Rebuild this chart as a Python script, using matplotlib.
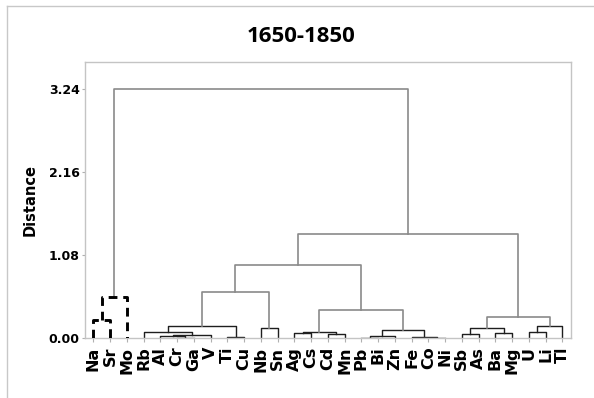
import matplotlib
matplotlib.use('Agg')
import matplotlib.pyplot as plt
from matplotlib.lines import Line2D

# leaves in dendrogram order
labels = ['Na', 'Sr', 'Mo', 'Rb', 'Al', 'Cr', 'Ga', 'V', 'Ti', 'Cu', 'Nb', 'Sn',
          'Ag', 'Cs', 'Cd', 'Mn', 'Pb', 'Bi', 'Zn', 'Fe', 'Co', 'Ni', 'Sb', 'As',
          'Ba', 'Mg', 'U', 'Li', 'Tl']

# linkage: ids 0..28 are leaves, each row makes a new cluster id 29, 30, ...
link_a = [0, 29, 5, 4, 32, 3, 8, 34, 10, 36, 12, 14, 39, 16, 42, 20, 19, 43,
          41, 38, 22, 24, 49, 26, 52, 51, 48, 30]
link_b = [1, 2, 6, 31, 7, 33, 9, 35, 11, 37, 13, 15, 40, 17, 18, 21, 44, 45,
          46, 47, 23, 25, 50, 27, 28, 53, 54, 55]
link_h = [0.24, 0.54, 0.01, 0.025, 0.04, 0.085, 0.02, 0.16, 0.13, 0.607, 0.065,
          0.05, 0.077, 0.008, 0.035, 0.008, 0.022, 0.108, 0.368, 0.95, 0.05,
          0.07, 0.138, 0.08, 0.16, 0.273, 1.36, 3.24]

yticks = [0.0, 1.08, 2.16, 3.24]
dashed_cluster = ['Na', 'Sr', 'Mo']

fig = plt.figure(figsize=(5.94, 3.98), dpi=100)
ax = fig.add_axes([85 / 594, 1 - 338.3 / 398, 485.7 / 594, 276.6 / 398])

n = len(labels)
xpos = {i: i + 1 for i in range(n)}
hgt = {i: 0.0 for i in range(n)}
members = {i: {labels[i]} for i in range(n)}

for k, (a, b, h) in enumerate(zip(link_a, link_b, link_h)):
    cid = n + k
    xpos[cid] = (xpos[a] + xpos[b]) / 2
    hgt[cid] = h
    members[cid] = members[a] | members[b]
    if members[cid] <= set(dashed_cluster):
        ax.plot([xpos[a], xpos[a], xpos[b], xpos[b]], [hgt[a], h, h, hgt[b]],
                color='black', lw=2.1, linestyle=(0, (3, 2)), zorder=3)
    elif h >= 0.25:
        ax.plot([xpos[a], xpos[a], xpos[b], xpos[b]], [hgt[a], h, h, hgt[b]],
                color='#8a8a8a', lw=1.2, zorder=2)
    else:
        ax.plot([xpos[a], xpos[a], xpos[b], xpos[b]], [hgt[a], h, h, hgt[b]],
                color='#1e1e1e', lw=1.0, zorder=2)

ax.set_xlim(0.5, n + 0.5)
ax.set_ylim(0, 3.6)
ax.set_xticks(range(1, n + 1))
ax.set_xticklabels(labels, rotation=90, fontsize=11.5, fontweight='bold',
                   family='DejaVu Sans')
ax.set_yticks(yticks)
ax.set_yticklabels(['%.2f' % v for v in yticks], fontsize=9, fontweight='bold',
                   family='DejaVu Sans')
ax.tick_params(axis='x', length=3, color='#b0b0b0', pad=3)
ax.tick_params(axis='y', length=2.5, color='#b0b0b0', pad=1.2)
for s in ax.spines.values():
    s.set_color('#c4c4c4')
    s.set_linewidth(1.0)

ax.set_ylabel('Distance', fontsize=10.5, fontweight='bold', labelpad=6)
ax.yaxis.set_label_coords(-0.098, 0.5)
fig.text(301 / 594, 1 - 36 / 398, '1650-1850', ha='center', va='center',
         fontsize=16, fontweight='bold', family='Open Sans')

# outer frame (top and left edges only)
fig.add_artist(Line2D([6.5 / 594, 6.5 / 594], [0, 1 - 5.5 / 398],
                      color='#c8c8c8', lw=1.0))
fig.add_artist(Line2D([6.5 / 594, 1], [1 - 5.5 / 398, 1 - 5.5 / 398],
                      color='#c8c8c8', lw=1.0))

fig.savefig('out.png', dpi=100)
